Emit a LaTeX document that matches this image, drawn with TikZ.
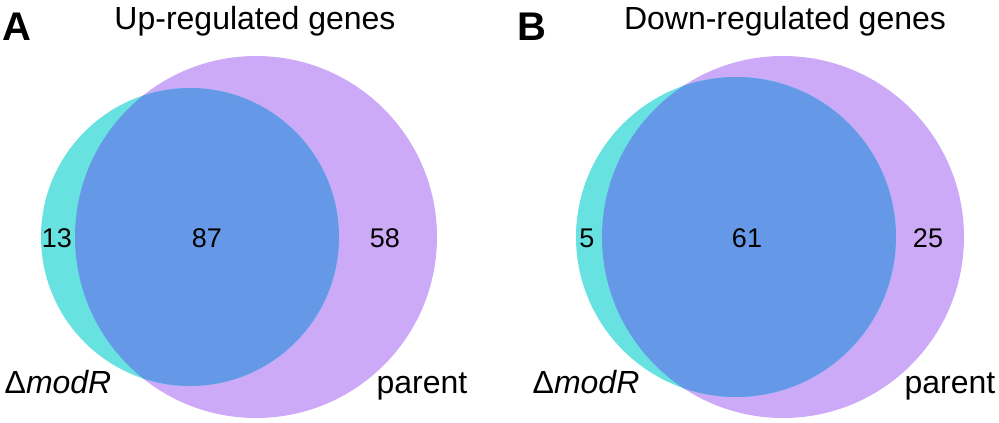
\documentclass[tikz,border=0pt]{standalone}
\usepackage{fontspec}
\setmainfont{Liberation Sans}
\definecolor{venncyan}{RGB}{104,226,224}
\definecolor{vennpurple}{RGB}{205,170,247}
\definecolor{vennblue}{RGB}{101,153,232}
\tikzset{
	count/.style={anchor=base, font=\fontsize{27}{27}\selectfont},
	setlabel/.style={anchor=base, font=\fontsize{32}{32}\selectfont},
	paneltitle/.style={anchor=base, font=\fontsize{32}{32}\selectfont},
	panelletter/.style={anchor=base west, inner sep=0pt, font=\fontsize{40}{40}\selectfont\bfseries},
}

\begin{document}
\begin{tikzpicture}[x=1pt, y=-1pt]
			%%%%% START %%%%%
			\useasboundingbox (0, 0) rectangle (999, 423);
			
			% panel A
			\fill[vennpurple] (256, 237) circle (181pt);
			\fill[venncyan] (190, 237) circle (149pt);
			\begin{scope}
				\clip (190, 237) circle (149pt);
				\fill[vennblue] (256, 237) circle (181pt);
			\end{scope}
			
			\node[panelletter] (letterA) at (2, 40) {A};
			\node[paneltitle] (titleA) at (255, 29) {Up-regulated genes};
			\node[count] (onlyA) at (57, 247) {13};
			\node[count] (bothA) at (207, 247) {87};
			\node[count] (parentonlyA) at (385, 247) {58};
			\node[setlabel] (mutantA) at (58, 393) {Δ\textit{modR}};
			\node[setlabel] (parentA) at (422, 393) {parent};
			
			% panel B
			\fill[vennpurple] (783, 237) circle (181pt);
			\fill[venncyan] (736, 237) circle (160pt);
			\begin{scope}
				\clip (736, 237) circle (160pt);
				\fill[vennblue] (783, 237) circle (181pt);
			\end{scope}
			
			\node[panelletter] (letterB) at (517, 40) {B};
			\node[paneltitle] (titleB) at (785, 29) {Down-regulated genes};
			\node[count] (onlyB) at (587, 247) {5};
			\node[count] (bothB) at (747, 247) {61};
			\node[count] (parentonlyB) at (928, 247) {25};
			\node[setlabel] (mutantB) at (586, 393) {Δ\textit{modR}};
			\node[setlabel] (parentB) at (950, 393) {parent};
			
			%%%%% END %%%%%
\end{tikzpicture}
\end{document}
